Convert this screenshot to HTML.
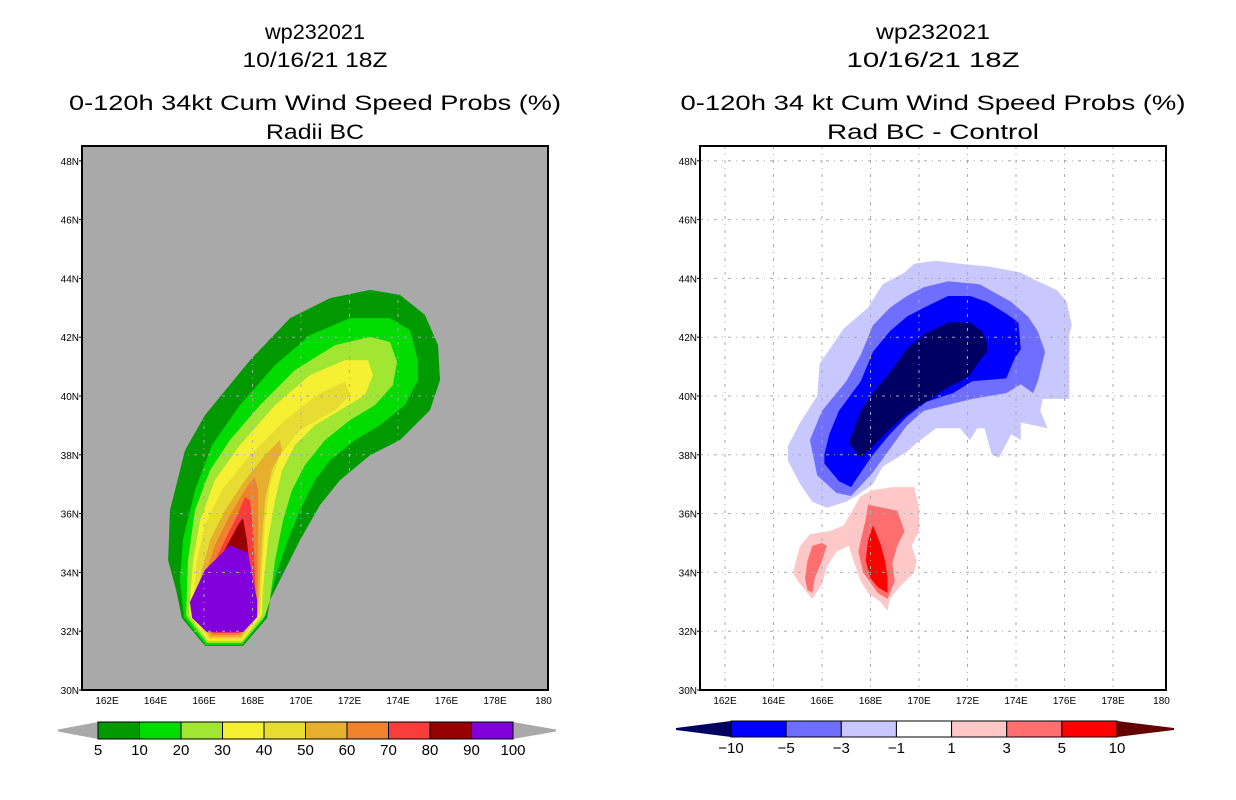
<!DOCTYPE html>
<html><head><meta charset="utf-8"><style>
body{margin:0;background:#fff;}
svg{display:block;font-family:"Liberation Sans",sans-serif;}
</style></head><body>
<svg id="chart" width="1236" height="800" viewBox="0 0 1236 800"></svg>
<script>
// ---------- data ----------
const leftLevels=[5,10,20,30,40,50,60,70,80,90,100];
const leftColors=["#009900","#00dc00","#a0e632","#f5f032","#e6dc32","#e6af2d","#f0822d","#fa3c3c","#960000","#8200dc"];
const lp5Lon=[165.09,164.85,164.52,164.60,165.22,166.04,167.90,169.55,171.20,172.85,174.08,175.11,175.65,175.73,175.32,174.08,172.85,171.61,170.78,169.96,169.34,168.72,168.60,167.61,166.04];
const lp5Lat=[32.45,33.40,34.42,36.12,38.16,39.35,41.22,42.65,43.33,43.61,43.44,42.76,41.73,40.54,39.52,38.50,37.99,37.14,36.29,35.10,34.08,33.06,32.45,31.50,31.50];
const lp10Lon=[165.18,165.01,165.13,165.63,166.33,167.48,168.93,170.37,172.02,173.67,174.49,174.82,174.82,174.29,173.26,172.23,171.20,170.58,169.96,169.46,168.97,168.56,168.47,167.57,166.08];
const lp10Lat=[32.45,33.74,35.10,36.80,38.33,39.69,41.05,42.07,42.65,42.65,42.24,41.22,40.54,39.69,39.01,38.50,37.82,37.14,36.12,35.10,33.91,32.65,32.41,31.53,31.53];
const lp20Lon=[165.26,165.34,165.63,166.25,167.07,168.31,169.75,171.40,172.85,173.67,173.96,173.79,173.05,172.02,170.99,170.16,169.63,169.26,168.93,168.72,168.52,167.57,166.12];
const lp20Lat=[32.52,34.42,36.12,37.48,38.50,39.69,40.88,41.73,42.01,41.84,41.16,40.37,39.69,39.18,38.50,37.65,36.80,35.78,34.42,33.06,32.52,31.60,31.60];
const lp30Lon=[165.38,165.55,165.84,166.45,167.48,168.93,170.37,171.81,172.76,172.97,172.64,171.61,170.58,169.75,169.22,168.93,168.64,168.43,168.39,167.57,166.16];
const lp30Lat=[32.55,34.42,35.78,37.14,38.33,39.69,40.71,41.22,41.22,40.71,40.03,39.52,39.01,38.33,37.48,36.46,35.10,33.40,32.55,31.67,31.67];
const lp40Lon=[165.51,165.71,166.04,166.74,167.90,169.34,170.78,171.81,172.02,171.40,169.96,169.13,168.72,168.52,168.39,168.31,167.57,166.21];
const lp40Lat=[32.59,34.42,35.61,36.80,37.99,39.18,40.10,40.48,40.03,39.52,38.84,37.99,36.97,35.78,34.08,32.62,31.73,31.73];
const lp50Lon=[165.63,165.92,166.25,166.87,167.69,168.52,169.13,169.22,168.80,168.52,168.39,168.31,168.23,167.53,166.25];
const lp50Lat=[32.65,34.08,35.10,36.12,37.14,37.99,38.50,38.16,37.48,36.46,35.10,33.74,32.65,31.80,31.80];
const lp60Lon=[165.75,166.04,166.45,167.07,167.81,168.10,168.23,168.23,168.23,168.19,167.48,166.33];
const lp60Lat=[32.72,33.91,34.93,35.95,36.97,37.24,36.80,35.44,34.08,32.72,31.87,31.87];
const lp70Lon=[165.84,166.16,166.66,167.28,167.69,167.90,168.02,168.10,168.14,167.44,166.37];
const lp70Lat=[32.79,33.81,34.76,35.78,36.56,36.46,35.44,34.08,32.79,31.94,31.94];
const lp80Lon=[165.92,166.25,166.74,167.40,167.61,167.77,167.90,168.06,167.40,166.41];
const lp80Lat=[32.86,33.81,34.59,35.61,35.85,35.10,34.08,32.86,32.01,32.01];
const lp90Lon=[165.51,165.42,166.04,167.07,167.81,168.19,168.19,167.61,166.12];
const lp90Lat=[32.45,32.99,34.08,34.93,34.66,33.06,32.48,31.97,31.97];
const leftPolys=[[lp5Lon,lp5Lat],[lp10Lon,lp10Lat],[lp20Lon,lp20Lat],[lp30Lon,lp30Lat],[lp40Lon,lp40Lat],[lp50Lon,lp50Lat],[lp60Lon,lp60Lat],[lp70Lon,lp70Lat],[lp80Lon,lp80Lat],[lp90Lon,lp90Lat]];

const rightLevels=["-10","-5","-3","-1","1","3","5","10"];
const rightColors=["#000064","#0000ff","#6e6eff","#c8c8ff","#ffffff","#ffc8c8","#ff6e6e","#ff0000","#640000"];
const rm1Lon=[164.6,165.1,165.8,165.9,166.9,167.9,168.5,169.4,169.8,170.7,171.7,172.9,174.2,174.9,175.7,176.1,176.3,176.2,176.2,175.1,175.0,175.3,174.2,174.2,173.8,173.3,173.0,172.7,172.4,172.1,171.7,170.7,169.9,169.5,168.5,168.1,167.4,167.0,166.2,165.6,165.1,164.6];
const rm1Lat=[38.3,39.1,40.0,41.1,42.3,43.0,43.8,44.2,44.5,44.6,44.5,44.4,44.2,43.9,43.6,43.2,42.4,42.1,39.9,39.9,39.5,38.9,39.1,38.5,38.7,37.9,38.0,38.9,38.9,38.5,38.9,38.9,38.4,38.1,37.6,37.0,36.6,36.4,36.2,36.4,37.0,37.8];
const rm3Lon=[165.5,166.0,166.5,167.0,167.6,168.1,168.8,169.5,170.2,171.2,172.5,173.8,174.5,174.9,175.2,174.9,174.7,174.2,173.6,172.2,171.2,170.2,169.5,168.8,168.1,167.2,166.6,165.8];
const rm3Lat=[38.5,39.5,40.0,40.5,41.4,42.4,43.0,43.4,43.7,43.9,43.8,43.2,42.7,42.2,41.5,40.5,40.1,40.4,40.1,39.9,39.7,39.5,39.0,38.2,37.4,36.6,36.7,37.3];
const rm5Lon=[166.1,166.3,166.7,167.6,168.1,168.8,169.5,170.2,171.2,172.1,172.8,173.6,174.1,174.2,173.9,173.6,172.2,171.4,170.3,169.5,168.8,168.1,167.6,167.2,166.7,166.1];
const rm5Lat=[38.0,38.7,39.5,40.5,41.5,42.2,42.7,43.0,43.4,43.4,43.2,42.8,42.5,41.6,41.2,40.6,40.5,40.1,39.8,39.3,38.7,38.0,37.4,36.9,37.1,37.7];
const rm10Lon=[167.1,167.6,168.1,168.8,169.5,170.2,171.2,172.1,172.6,172.8,172.8,172.5,172.1,171.7,171.2,170.3,169.5,168.7,168.0,167.6];
const rm10Lat=[38.4,39.5,40.1,40.8,41.6,42.1,42.5,42.5,42.2,41.8,41.5,41.2,40.7,40.5,40.3,39.8,39.4,38.8,38.2,37.9];
const rp1Lon=[164.8,165.1,165.5,166.3,166.9,167.1,167.6,168.1,168.9,169.8,170.0,170.0,169.7,169.9,169.8,169.2,168.8,168.7,168.4,167.9,167.6,167.3,167.1,166.6,166.2,166.0,165.6,165.4,165.0];
const rp1Lat=[34.0,34.9,35.3,35.4,35.6,35.9,36.6,36.8,36.9,36.9,36.2,35.4,34.9,34.4,34.0,33.5,33.1,32.7,33.0,33.3,33.7,34.4,34.9,34.7,34.2,33.6,33.1,33.3,33.7];
const rp3aLon=[167.9,169.1,169.4,169.1,168.9,169.0,168.7,168.3,167.7,167.5,167.6,167.8];
const rp3aLat=[36.3,36.1,35.4,34.9,34.3,33.7,33.1,33.3,34.0,34.7,35.1,35.8];
const rp3bLon=[165.6,166.0,166.2,166.0,165.7,165.6,165.4,165.3,165.4];
const rp3bLat=[34.9,35.0,34.9,34.4,33.8,33.3,33.4,33.8,34.4];
const rp5Lon=[168.1,168.4,168.6,168.7,168.7,168.3,168.0,167.8,167.9];
const rp5Lat=[35.6,35.0,34.4,33.8,33.3,33.5,33.8,34.4,35.1];
const rightPolys=[[rm1Lon,rm1Lat,3],[rm3Lon,rm3Lat,2],[rm5Lon,rm5Lat,1],[rm10Lon,rm10Lat,0],[rp1Lon,rp1Lat,5],[rp3aLon,rp3aLat,6],[rp3bLon,rp3bLat,6],[rp5Lon,rp5Lat,7]];

const lonTicks=[162,164,166,168,170,172,174,176,178,180];
const latTicks=[30,32,34,36,38,40,42,44,46,48];

// ---------- drawing ----------
const NS="http://www.w3.org/2000/svg";
const svg=document.getElementById('chart');
function mk(tag,attrs,parent){const e=document.createElementNS(NS,tag);for(const k in attrs)e.setAttribute(k,attrs[k]);(parent||svg).appendChild(e);return e;}
const BOX_T=146,BOX_B=690,BOX_W=466;
function xScale(left){return lon=>left+25+(lon-162)*24.25;}
function yScale(lat){return 690-(lat-30)*29.4;}

function panel(left,bg,polys,colorOf,titles,widths,pname){
  const g=mk('g',{});
  
  
  const xs=xScale(left);
  const cid='clip-'+pname;
  const cp=mk('clipPath',{id:cid},g);
  mk('rect',{x:left,y:BOX_T,width:BOX_W,height:BOX_B-BOX_T},cp);
  const bgr=mk('rect',{x:left,y:BOX_T,width:BOX_W,height:BOX_B-BOX_T,fill:bg},g);
  
  
  const pg=mk('g',{'clip-path':'url(#'+cid+')'},g);
  polys.forEach((p,i)=>{
    const pts=p[0].map((lo,j)=>xs(lo).toFixed(1)+','+yScale(p[1][j]).toFixed(1)).join(' ');
    const el=mk('polygon',{points:pts,fill:colorOf(p,i)},pg);
    
    
  });
  lonTicks.forEach(lo=>{if(lo<180){const l=mk('line',{x1:xs(lo),x2:xs(lo),y1:BOX_T,y2:BOX_B,stroke:'#aaaaaa','stroke-width':1,'stroke-dasharray':'3,5,1,5'},pg);
    
    }});
  latTicks.forEach(la=>{if(la>30){const l=mk('line',{x1:left,x2:left+BOX_W,y1:yScale(la),y2:yScale(la),stroke:'#aaaaaa','stroke-width':1,'stroke-dasharray':'3,5,1,5'},pg);
    
    }});
  const fr=mk('rect',{x:left,y:BOX_T,width:BOX_W,height:BOX_B-BOX_T,fill:'none',stroke:'#000','stroke-width':2},g);
  
  
  lonTicks.forEach(lo=>{
    const t=mk('text',{x:xs(lo),y:704,'font-size':10,'text-anchor':'middle',fill:'#000'},g);
    t.textContent=lo===180?'180':lo+'E';
    
    
  });
  latTicks.forEach(la=>{
    const t=mk('text',{x:left-3,y:yScale(la)+4,'font-size':10,'text-anchor':'end',fill:'#000'},g);
    t.textContent=la+'N';
    
    
    mk('line',{x1:left-3,x2:left,y1:yScale(la),y2:yScale(la),stroke:'#000'},g);
  });
  const cx=left+BOX_W/2;
  const ty=[39,67,110,139];
  titles.forEach((s,i)=>{
    const t=mk('text',{x:cx,y:ty[i],'font-size':21,'text-anchor':'middle',fill:'#000',textLength:widths[i],lengthAdjust:'spacingAndGlyphs'},g);
    t.textContent=s;
    
    
  });
}

panel(82,'#a9a9a9',leftPolys,(p,i)=>leftColors[i],['wp232021','10/16/21 18Z','0-120h 34kt Cum Wind Speed Probs (%)','Radii BC'],[100,145,492,98],'left-panel');
panel(700,'#ffffff',rightPolys,(p,i)=>rightColors[p[2]],['wp232021','10/16/21 18Z','0-120h 34 kt Cum Wind Speed Probs (%)','Rad BC - Control'],[114,173,505,212],'right-panel');

function colorbar(x0,x1,y0,y1,tl,tr,fills,lc,rc,labels,name){
  const g=mk('g',{});
  
  
  const ym=(y0+y1)/2;
  mk('polygon',{points:`${x0},${y0} ${tl},${ym-1} ${tl},${ym+1} ${x0},${y1}`,fill:lc,stroke:'none'},g);
  mk('polygon',{points:`${x1},${y0} ${tr},${ym-1} ${tr},${ym+1} ${x1},${y1}`,fill:rc,stroke:'none'},g);
  const w=(x1-x0)/fills.length;
  fills.forEach((c,i)=>{
    const r=mk('rect',{x:x0+i*w,y:y0,width:w,height:y1-y0,fill:c,stroke:'#000','stroke-width':1},g);
    
    
  });
  labels.forEach((s,i)=>{
    const t=mk('text',{x:x0+i*w,y:y1+16,'font-size':15,'text-anchor':'middle',fill:'#000'},g);
    t.textContent=s.replace('-','\u2212');
    
    
  });
}
colorbar(98,513,722,739,58,556,leftColors,'#a9a9a9','#a9a9a9',leftLevels.map(String),'left-colorbar');
colorbar(731,1117,721,737,676,1174,rightColors.slice(1,8),rightColors[0],rightColors[8],rightLevels,'right-colorbar');
</script>
</body></html>
